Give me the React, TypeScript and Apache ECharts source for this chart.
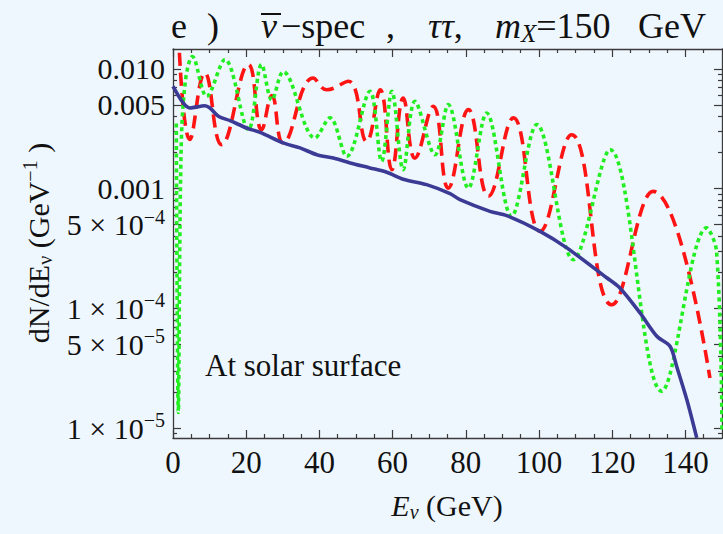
import React, { useEffect, useRef } from "react";
import * as echarts from "echarts";

// Antineutrino spectra at the solar surface, tau-tau channel, m_X = 150 GeV
const FONT = '"Liberation Serif", "Times New Roman", serif';

// [E (GeV), dN/dE (1/GeV)]
const nuEbar: [number, number][] = [
  [0, 7.16e-3], [2.8, 5.2e-3], [4.6, 4.72e-3], [8.7, 4.93e-3], [10.1, 4.72e-3],
  [12.4, 4.02e-3], [15.6, 3.7e-3], [20.1, 3.21e-3], [23.8, 2.95e-3], [30.1, 2.41e-3],
  [34.7, 2.19e-3], [39.3, 1.92e-3], [43.8, 1.8e-3], [48.4, 1.64e-3], [53.8, 1.49e-3],
  [58.4, 1.37e-3], [62.9, 1.2e-3], [69.3, 1.08e-3], [75.7, 9.08e-4], [78.4, 8.09e-4],
  [86.6, 6.46e-4], [91.2, 5.95e-4], [100.3, 4.4e-4], [107.6, 3.2e-4], [118.5, 1.8e-4],
  [122.1, 1.48e-4], [127.6, 9.15e-5], [132.2, 5.84e-5], [135.8, 4.82e-5], [137.6, 3.28e-5],
  [140.4, 1.72e-5], [143.1, 8.26e-6],
];

const nuMubar: [number, number][] = [
  [1.5, 2.0e-2], [4.6, 2.57e-3], [8.7, 9.26e-3], [13.3, 2.33e-3], [20.6, 1.09e-2],
  [24.2, 3.11e-3], [27, 6.0e-3], [30.1, 2.41e-3], [38.3, 8.4e-3], [42, 6.7e-3],
  [47.9, 7.9e-3], [52.9, 2.48e-3], [56.6, 6.7e-3], [59.8, 1.44e-3], [62.9, 5.7e-3],
  [66.1, 1.8e-3], [71.1, 4.87e-3], [75.2, 1.01e-3], [80.7, 4.57e-3], [86.2, 8.63e-4],
  [93, 3.9e-3], [100.3, 4.4e-4], [108.9, 2.82e-3], [119.9, 1.07e-4], [131.2, 9.48e-4],
  [146.7, 2.62e-5],
];

const nuTaubar: [number, number][] = [
  [0.9, 3.5e-3], [1.45, 1.35e-5], [2.2, 2.0e-3], [3.4, 8.0e-3], [5.3, 1.27e-2],
  [9.2, 5.9e-3], [14.2, 1.2e-2], [20.6, 3.11e-3], [24.2, 1.09e-2], [27, 5.5e-3],
  [30.1, 9.5e-3], [38.8, 2.65e-3], [42.9, 3.9e-3], [47.5, 1.86e-3], [53.8, 6.5e-3],
  [57, 1.69e-3], [59.8, 6.5e-3], [62.9, 1.44e-3], [66.1, 5.36e-3], [71.6, 1.92e-3],
  [75.2, 5.03e-3], [80.7, 1.01e-3], [85.7, 4.28e-3], [92.5, 5.88e-4], [99.4, 3.43e-3],
  [109.4, 2.55e-4], [119.4, 2.12e-3], [133.5, 2.03e-5], [145.8, 4.7e-4], [148.5, 3.0e-4],
  [150, 9.7e-6],
];

// Axis ranges and tick marks
const xRange = [0, 150];
const yRange = [8.25e-6, 1.468e-2];
const xMajorTicks = [0, 20, 40, 60, 80, 100, 120, 140];
const xMinorTicks = [5, 10, 15, 25, 30, 35, 45, 50, 55, 65, 70, 75, 85, 90, 95, 105, 110, 115, 125, 130, 135, 145];
const yTickValues = [1e-2, 5e-3, 1e-3, 5e-4, 1e-4, 5e-5, 1e-5];
const yTickLabels = ["0.010", "0.005", "0.001", "5 × 10{sup|−4}", "1 × 10{sup|−4}", "5 × 10{sup|−5}", "1 × 10{sup|−5}"];
const yMinorTicks: number[] = [];
for (const decade of [1e-6, 1e-5, 1e-4, 1e-3]) {
  for (const m of [2, 3, 4, 6, 7, 8, 9]) yMinorTicks.push(m * decade);
}

// Title pieces and where each one starts
const titleParts: { x: number; text: string }[] = [
  { x: 171, text: "e" },
  { x: 207, text: ")" },
  { x: 261, text: "{it|ν}" },
  { x: 281, text: "−spec" },
  { x: 386, text: "," },
  { x: 428, text: "{it|ττ}," },
  { x: 495, text: "{it|m}{sub|X}=150" },
  { x: 638, text: "GeV" },
];

const FRAME = "#3a3a3a";
const BG = "#eff7fe";
const INK = "#111";

function xAxis(position: "top" | "bottom", ticks: number[], len: number, labels: boolean, line: boolean) {
  return {
    type: "value",
    position,
    min: xRange[0],
    max: xRange[1],
    axisLine: { show: line, onZero: false, lineStyle: { color: FRAME, width: 1.3 } },
    axisTick: { show: true, inside: true, length: len, customValues: ticks, lineStyle: { color: FRAME, width: 1.2 } },
    axisLabel: labels
      ? { show: true, customValues: xMajorTicks, margin: 9, fontFamily: FONT, fontSize: 31, color: INK }
      : { show: false },
    splitLine: { show: false },
  };
}

function yAxis(position: "left" | "right", ticks: number[], len: number, labels: boolean, line: boolean) {
  return {
    type: "log",
    logBase: 10,
    position,
    min: yRange[0],
    max: yRange[1],
    axisLine: { show: line, onZero: false, lineStyle: { color: FRAME, width: 1.3 } },
    axisTick: { show: true, inside: true, length: len, customValues: ticks, lineStyle: { color: FRAME, width: 1.2 } },
    axisLabel: labels
      ? {
          show: true,
          customValues: yTickValues,
          margin: 8,
          fontFamily: FONT,
          fontSize: 30,
          color: INK,
          formatter: (v: number) => {
            let best = 0;
            let err = Infinity;
            yTickValues.forEach((t, i) => {
              const e = Math.abs(Math.log10(v) - Math.log10(t));
              if (e < err) { err = e; best = i; }
            });
            return yTickLabels[best];
          },
          rich: {
            sup: { fontFamily: FONT, fontSize: 20, color: INK, lineHeight: 20, padding: [0, 0, 16, 0] },
          },
        }
      : { show: false },
    splitLine: { show: false },
  };
}

export default function App() {
  const ref = useRef<HTMLDivElement>(null);

  useEffect(() => {
    if (!ref.current) return;
    const chart = echarts.init(ref.current, undefined, { renderer: "svg" });
    const lineSeries = (name: string, data: [number, number][], color: string, type: any, smooth: number) => ({
      name,
      type: "line",
      data,
      xAxisIndex: 0,
      yAxisIndex: 0,
      showSymbol: false,
      smooth,
      clip: true,
      lineStyle: { color, width: 3.6, type, cap: "butt" },
      z: 3,
    });
    const titleRich = {
      it: { fontFamily: FONT, fontSize: 36, fontStyle: "italic", fill: INK },
      sub: { fontFamily: FONT, fontSize: 25, fontStyle: "italic", fill: INK, lineHeight: 25, padding: [15, 0, 0, 0] },
    };
    chart.setOption({
      animation: false,
      backgroundColor: BG,
      grid: { left: 173, right: 1, top: 49, bottom: 96, show: false },
      xAxis: [
        xAxis("bottom", xMajorTicks, 8, true, true),
        xAxis("bottom", xMinorTicks, 4, false, false),
        xAxis("top", xMajorTicks, 8, false, true),
        xAxis("top", xMinorTicks, 4, false, false),
      ],
      yAxis: [
        yAxis("left", yTickValues, 8, true, true),
        yAxis("left", yMinorTicks, 4, false, false),
        yAxis("right", yTickValues, 8, false, true),
        yAxis("right", yMinorTicks, 4, false, false),
      ],
      series: [
        lineSeries("ν̄μ", nuMubar, "#ff1414", [13, 7], 0.45),
        lineSeries("ν̄τ", nuTaubar, "#22ee22", [4, 3.5], 0.35),
        lineSeries("ν̄e", nuEbar, "#3b3b96", "solid", 0.3),
      ],
      graphic: [
        ...titleParts.map((p) => ({
          type: "text",
          x: p.x,
          y: 26,
          style: {
            text: p.text,
            fontFamily: FONT,
            fontSize: 36,
            fill: INK,
            verticalAlign: "middle",
            rich: titleRich,
          },
        })),
        {
          type: "line",
          shape: { x1: 261, y1: 14, x2: 281, y2: 14 },
          style: { stroke: INK, lineWidth: 2 },
        },
        {
          type: "text",
          left: 205,
          top: 350,
          style: { text: "At solar surface", fontFamily: FONT, fontSize: 31, fill: INK },
        },
        {
          type: "text",
          x: 38,
          y: 243,
          rotation: Math.PI / 2,
          style: {
            text: "dN/dE{sub|ν} (GeV{sup|−1} )",
            fontFamily: FONT,
            fontSize: 30,
            fill: INK,
            align: "center",
            verticalAlign: "middle",
            rich: {
              sub: { fontFamily: FONT, fontSize: 20, fill: INK, lineHeight: 20, padding: [14, 0, 0, 0] },
              sup: { fontFamily: FONT, fontSize: 20, fill: INK, lineHeight: 20, padding: [0, 0, 16, 0] },
            },
          },
        },
        {
          type: "text",
          x: 447,
          y: 505,
          style: {
            text: "{it|E}{sub|ν} (GeV)",
            fontFamily: FONT,
            fontSize: 30,
            fill: INK,
            align: "center",
            verticalAlign: "middle",
            rich: {
              it: { fontFamily: FONT, fontSize: 30, fontStyle: "italic", fill: INK },
              sub: { fontFamily: FONT, fontSize: 20, fontStyle: "italic", fill: INK, lineHeight: 20, padding: [14, 0, 0, 0] },
            },
          },
        },
      ],
    });
    return () => chart.dispose();
  }, []);

  return <div ref={ref} style={{ width: 723, height: 534, position: "absolute", left: 0, top: 0 }} />;
}
